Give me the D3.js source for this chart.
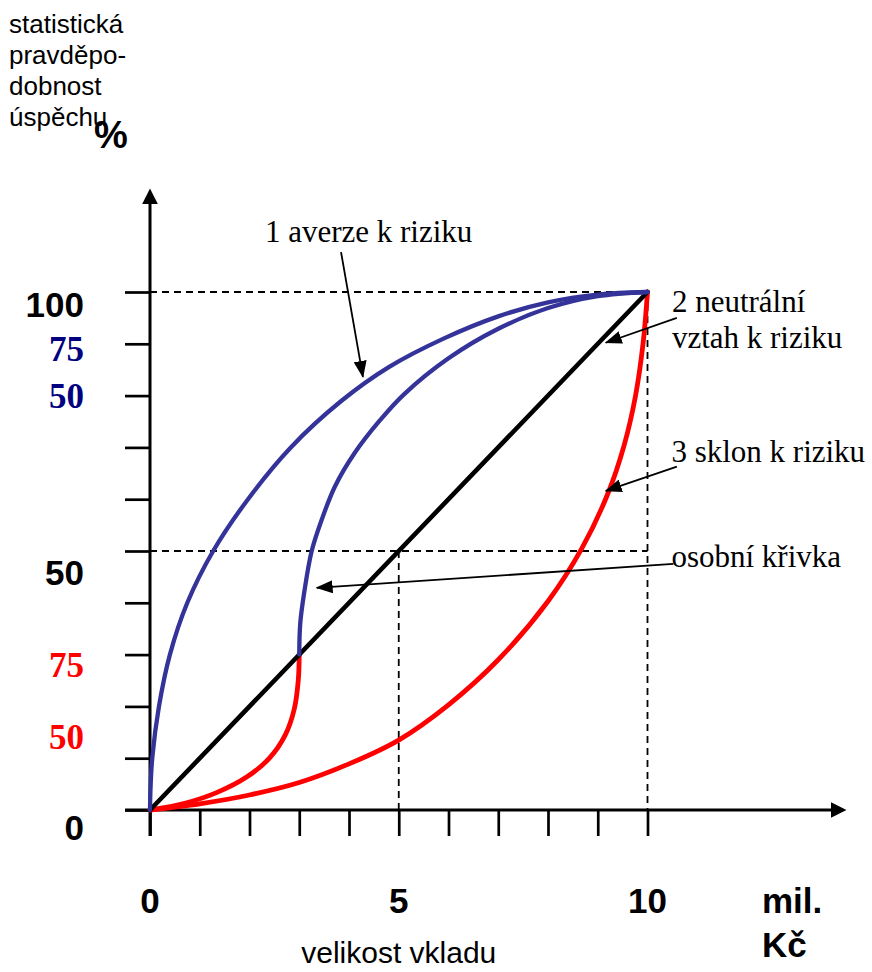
<!DOCTYPE html>
<html>
<head>
<meta charset="utf-8">
<script src="https://cdn.jsdelivr.net/npm/d3@7"></script>
<style>
  body { margin: 0; background: #fff; }
  svg { display: block; }
  .sans { font-family: "Liberation Sans", Arial, sans-serif; }
  .serif { font-family: "Liberation Serif", "Times New Roman", serif; }
</style>
</head>
<body>
<div id="chart"></div>
<script>
// curves, x = mil. Kč, y = %
const averse = [[0, 0], [0.01, 4], [0.045, 10], [0.18, 20], [0.4, 30], [0.75, 40], [1.27, 50],
  [1.97, 60], [2.83, 70], [3.85, 79], [4.8, 85.5], [5.9, 91], [7.0, 95.3], [8.0, 98],
  [9.0, 99.5], [10, 100]];
const personalUpper = [[3, 30], [3.02, 36], [3.1, 42], [3.25, 50], [3.45, 56], [3.72, 62.5],
  [4.12, 69], [4.62, 75.2], [5.1, 80.2], [6.0, 87.2], [7.0, 92.9], [8.0, 96.9], [9.0, 99.2], [10, 100]];
const personalLower = [[0, 0], [0.7, 1.3], [1.35, 3.4], [1.95, 6.4], [2.4, 10], [2.72, 14.5],
  [2.9, 19.5], [2.98, 25], [3, 30]];
const seeking = [[0, 0], [1, 1.2], [2, 2.9], [3, 5.3], [4, 8.9], [5, 13.5], [6, 20.3],
  [7, 29], [8, 40.3], [8.68, 50.5], [9.2, 61], [9.53, 70.4], [9.76, 80], [9.91, 90], [10, 100]];
const neutral = [[0, 0], [10, 100]];

const xTicks = [0, 1, 2, 3, 4, 5, 6, 7, 8, 9, 10];
const yTicks = [0, 10, 20, 30, 40, 50, 60, 70, 80, 90, 100];
const xLabels = ["0", "5", "10"];
const xLabelAt = [0, 5, 10];
const yLabels = ["100", "75", "50", "50", "75", "50", "0"];
const yLabelAt = [95.2, 86.7, 77.6, 43.4, 25.7, 11.8, -5.8];
const yLabelKind = ["base", "averse", "averse", "base", "seek", "seek", "base"];

const guides = [[[0, 100], [10, 100]], [[10, 100], [10, 0]], [[0, 50], [10, 50]], [[5, 50], [5, 0]]];

const noteText = [["1 averze k riziku"], ["2 neutrální", "vztah k riziku"], ["3 sklon k riziku"], ["osobní křivka"]];
const noteAt = [[2.31, 109.65], [10.49, 96.1], [10.48, 67.2], [10.48, 46.9]];
const noteFrom = [[3.84, 107.7], [10.59, 95.0], [10.59, 66.3], [10.52, 47.5]];
const noteTo = [[4.28, 83.6], [9.16, 90.2], [9.16, 61.6], [3.35, 42.9]];

const width = 872;
const height = 972;

const svg = d3.select("#chart").append("svg")
  .attr("width", width)
  .attr("height", height);

const x = d3.scaleLinear().domain([0, 10]).range([150, 647.5]);
const y = d3.scaleLinear().domain([0, 100]).range([810, 292]);

const defs = svg.append("defs");
defs.append("marker")
  .attr("id", "axis-head")
  .attr("markerUnits", "userSpaceOnUse")
  .attr("markerWidth", 16).attr("markerHeight", 16)
  .attr("refX", 2).attr("refY", 8)
  .attr("orient", "auto")
  .append("path").attr("d", "M0,0L16,8L0,16Z").attr("fill", "#000");
defs.append("marker")
  .attr("id", "note-head")
  .attr("markerUnits", "userSpaceOnUse")
  .attr("markerWidth", 17).attr("markerHeight", 13)
  .attr("refX", 16).attr("refY", 6.5)
  .attr("orient", "auto")
  .append("path").attr("d", "M0,0L17,6.5L0,13Z").attr("fill", "#000");

// dashed guides
svg.append("g")
  .selectAll("line")
  .data(guides)
  .join("line")
  .attr("x1", d => x(d[0][0])).attr("y1", d => y(d[0][1]))
  .attr("x2", d => x(d[1][0])).attr("y2", d => y(d[1][1]))
  .attr("stroke", "#000")
  .attr("stroke-width", 1.8)
  .attr("stroke-dasharray", "7,5");

// ticks
const xAxis = svg.append("g")
  .attr("transform", `translate(0,${y(0)})`)
  .call(d3.axisBottom(x).tickValues(xTicks).tickSize(26).tickFormat(""));
const yAxis = svg.append("g")
  .attr("transform", `translate(${x(0)},0)`)
  .call(d3.axisLeft(y).tickValues(yTicks).tickSize(25).tickFormat(""));
[xAxis, yAxis].forEach(g => {
  g.select(".domain").remove();
  g.selectAll(".tick line").attr("stroke", "#000").attr("stroke-width", 2.7);
});

// axis lines with arrows
svg.append("line")
  .attr("x1", x(-0.5)).attr("y1", y(0))
  .attr("x2", x(14) - 14).attr("y2", y(0))
  .attr("stroke", "#000").attr("stroke-width", 3)
  .attr("marker-end", "url(#axis-head)");
svg.append("line")
  .attr("x1", x(0)).attr("y1", y(-5))
  .attr("x2", x(0)).attr("y2", y(120) + 14)
  .attr("stroke", "#000").attr("stroke-width", 3)
  .attr("marker-end", "url(#axis-head)");

// curves
const line = d3.line()
  .x(d => x(d[0]))
  .y(d => y(d[1]))
  .curve(d3.curveCatmullRom.alpha(0.5));

const curves = [
  { data: seeking, color: "#ff0000", w: 4.8 },
  { data: personalLower, color: "#ff0000", w: 4.8 },
  { data: neutral, color: "#000000", w: 4.6 },
  { data: averse, color: "#333399", w: 4.3 },
  { data: personalUpper, color: "#333399", w: 4.3 }
];
svg.append("g")
  .attr("fill", "none")
  .selectAll("path")
  .data(curves)
  .join("path")
  .attr("d", d => line(d.data))
  .attr("stroke", d => d.color)
  .attr("stroke-width", d => d.w)
  .attr("stroke-linecap", "round");

// annotations
svg.append("g")
  .selectAll("line")
  .data(noteFrom)
  .join("line")
  .attr("x1", d => x(d[0])).attr("y1", d => y(d[1]))
  .attr("x2", (d, i) => x(noteTo[i][0])).attr("y2", (d, i) => y(noteTo[i][1]))
  .attr("stroke", "#000")
  .attr("stroke-width", 1.8)
  .attr("marker-end", "url(#note-head)");

noteText.forEach((lines, i) => {
  svg.append("text")
    .attr("class", "serif")
    .attr("font-size", 31)
    .attr("fill", "#000")
    .selectAll("tspan")
    .data(lines)
    .join("tspan")
    .attr("x", x(noteAt[i][0]))
    .attr("y", (d, j) => y(noteAt[i][1]) + j * 35.5)
    .text(d => d);
});

// tick labels
svg.append("g")
  .selectAll("text")
  .data(xLabels)
  .join("text")
  .attr("class", "sans")
  .attr("font-size", 35)
  .attr("font-weight", "bold")
  .attr("text-anchor", "middle")
  .attr("x", (d, i) => x(xLabelAt[i]))
  .attr("y", 913)
  .text(d => d);

const labelColor = { base: "#000", averse: "#000080", seek: "#ff0000" };
svg.append("g")
  .selectAll("text")
  .data(yLabels)
  .join("text")
  .attr("class", (d, i) => yLabelKind[i] === "base" ? "sans" : "serif")
  .attr("font-size", 35)
  .attr("font-weight", "bold")
  .attr("text-anchor", "end")
  .attr("fill", (d, i) => labelColor[yLabelKind[i]])
  .attr("x", 84)
  .attr("y", (d, i) => y(yLabelAt[i]))
  .text(d => d);

// axis titles
svg.append("text")
  .attr("class", "sans")
  .attr("font-size", 26)
  .selectAll("tspan")
  .data(["statistická", "pravděpo-", "dobnost", "úspěchu"])
  .join("tspan")
  .attr("x", 9)
  .attr("y", (d, i) => 33 + i * 31)
  .text(d => d);

svg.append("text")
  .attr("class", "sans")
  .attr("font-size", 38)
  .attr("font-weight", "bold")
  .attr("x", 94).attr("y", 148)
  .text("%");

svg.append("text")
  .attr("class", "sans")
  .attr("font-size", 35)
  .attr("font-weight", "bold")
  .selectAll("tspan")
  .data(["mil.", "Kč"])
  .join("tspan")
  .attr("x", 762)
  .attr("y", (d, i) => 913 + i * 44)
  .text(d => d);

svg.append("text")
  .attr("class", "sans")
  .attr("font-size", 30)
  .attr("text-anchor", "middle")
  .attr("x", x(5))
  .attr("y", 963)
  .text("velikost vkladu");
</script>
</body>
</html>
